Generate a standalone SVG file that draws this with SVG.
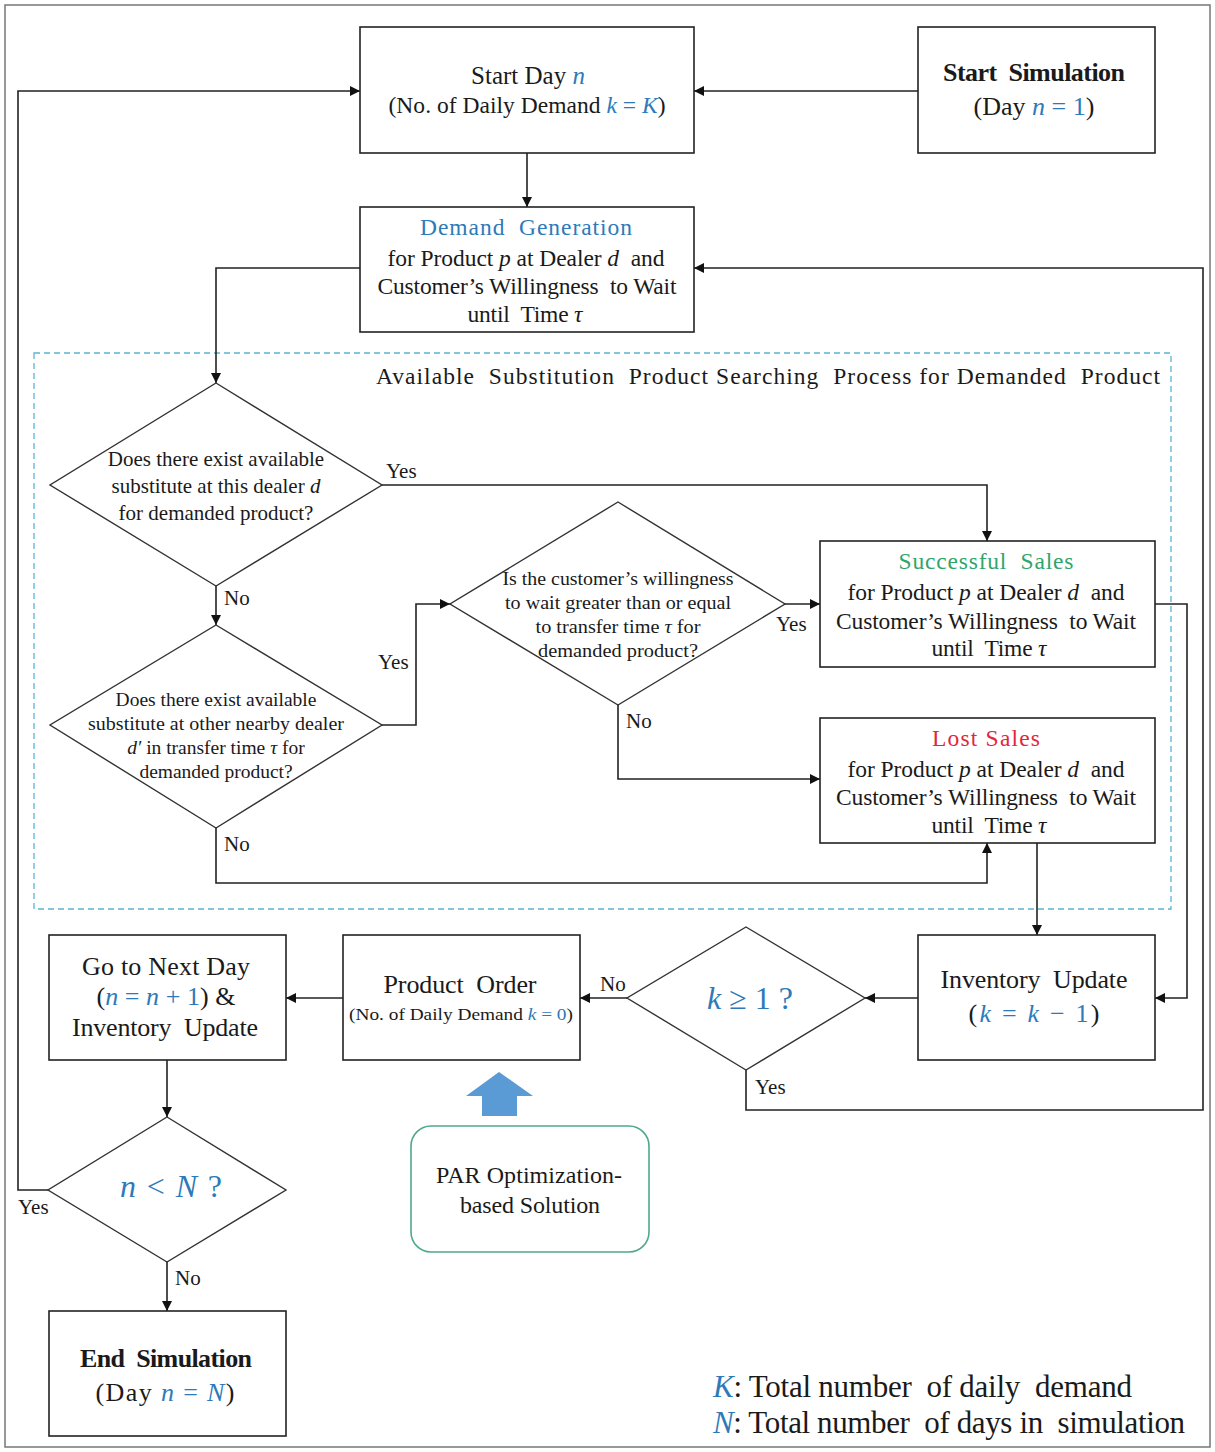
<svg xmlns="http://www.w3.org/2000/svg" width="1215" height="1452" viewBox="0 0 1215 1452">
<style>
text{font-family:"Liberation Serif","Times New Roman",serif;fill:#1a1a1a;white-space:pre;}
.t{font-size:23.5px;text-anchor:middle;}
.b{font-size:26px;text-anchor:middle;}
.d{font-size:21px;text-anchor:middle;}
.d2{font-size:19.5px;text-anchor:middle;}
.lb{font-size:21px;}
.m{fill:#2e7ab8;font-style:italic;}
.mn{fill:#2e7ab8;font-style:normal;}
.box{fill:#fff;stroke:#222;stroke-width:1.6;}
.dia{fill:#fff;stroke:#333;stroke-width:1.4;}
.ln{fill:none;stroke:#222;stroke-width:1.6;}
</style>
<defs>
<marker id="ah" viewBox="0 0 10 10" refX="10" refY="5" markerWidth="11" markerHeight="10" markerUnits="userSpaceOnUse" orient="auto">
<path d="M0,0 L10,5 L0,10 z" fill="#111"/>
</marker>
</defs>
<rect x="5" y="5" width="1205" height="1442" fill="#fff" stroke="#777" stroke-width="1.5"/>
<rect id="search-region" x="34" y="353" width="1137" height="556" fill="none" stroke="#5ab4d4" stroke-width="1.3" stroke-dasharray="6,4"/>
<text x="768" y="384" style="font-size:23.5px;text-anchor:middle" textLength="784" lengthAdjust="spacing">Available  Substitution  Product Searching  Process for Demanded  Product</text>

<g id="connectors">
<path class="ln" d="M918,91 H694" marker-end="url(#ah)"/>
<path class="ln" d="M527,153 V207" marker-end="url(#ah)"/>
<path class="ln" d="M360,268 H216 V383" marker-end="url(#ah)"/>
<path class="ln" d="M382,485 H987 V541" marker-end="url(#ah)"/>
<path class="ln" d="M216,586 V625" marker-end="url(#ah)"/>
<path class="ln" d="M382,725 H416 V604 H450" marker-end="url(#ah)"/>
<path class="ln" d="M216,828 V883 H987 V843" marker-end="url(#ah)"/>
<path class="ln" d="M785,604 H820" marker-end="url(#ah)"/>
<path class="ln" d="M618,705 V779 H820" marker-end="url(#ah)"/>
<path class="ln" d="M1155,604 H1187 V998 H1155" marker-end="url(#ah)"/>
<path class="ln" d="M1037,843 V935" marker-end="url(#ah)"/>
<path class="ln" d="M918,998 H865" marker-end="url(#ah)"/>
<path class="ln" d="M627,998 H580" marker-end="url(#ah)"/>
<path class="ln" d="M746,1070 V1110 H1203 V268 H694" marker-end="url(#ah)"/>
<path class="ln" d="M343,998 H286" marker-end="url(#ah)"/>
<path class="ln" d="M167,1060 V1117" marker-end="url(#ah)"/>
<path class="ln" d="M48,1190 H18 V91 H360" marker-end="url(#ah)"/>
<path class="ln" d="M167,1262 V1311" marker-end="url(#ah)"/>
<polygon points="499,1072 533,1096 517,1096 517,1116 482,1116 482,1096 466,1096" fill="#5b9bd5"/>
<text class="lb" x="386" y="478">Yes</text>
<text class="lb" x="224" y="605">No</text>
<text class="lb" x="378" y="669">Yes</text>
<text class="lb" x="224" y="851">No</text>
<text class="lb" x="776" y="631">Yes</text>
<text class="lb" x="626" y="728">No</text>
<text class="lb" x="600" y="991">No</text>
<text class="lb" x="755" y="1094">Yes</text>
<text class="lb" x="18" y="1214">Yes</text>
<text class="lb" x="175" y="1285">No</text>
</g>

<g id="start-day">
<rect class="box" x="360" y="27" width="334" height="126"/>
<text class="t" x="528" y="84" style="font-size:25px">Start Day <tspan class="m">n</tspan></text>
<text class="t" x="527" y="113" textLength="277" lengthAdjust="spacing">(No. of Daily Demand <tspan class="m">k</tspan><tspan class="mn"> = </tspan><tspan class="m">K</tspan>)</text>
</g>

<g id="start-simulation">
<rect class="box" x="918" y="27" width="237" height="126"/>
<text class="b" x="1034" y="81" style="font-weight:bold" textLength="182" lengthAdjust="spacing">Start  Simulation</text>
<text class="b" x="1034" y="115">(Day <tspan class="m">n</tspan><tspan class="mn"> = 1</tspan>)</text>
</g>

<g id="demand-generation">
<rect class="box" x="360" y="207" width="334" height="125"/>
<text class="t" x="526" y="235" style="fill:#2e7ab8" textLength="212" lengthAdjust="spacing">Demand  Generation</text>
<text class="t" x="526" y="266" textLength="277" lengthAdjust="spacing">for Product <tspan font-style="italic">p</tspan> at Dealer <tspan font-style="italic">d</tspan>  and</text>
<text class="t" x="527" y="294" textLength="299" lengthAdjust="spacing">Customer’s Willingness  to Wait</text>
<text class="t" x="525" y="322" textLength="115" lengthAdjust="spacing">until  Time <tspan font-style="italic">τ</tspan></text>
</g>

<g id="decision-this-dealer">
<polygon class="dia" points="216,383 382,485 216,586 50,485"/>
<text class="d" x="216" y="466">Does there exist available</text>
<text class="d" x="216" y="493">substitute at this dealer <tspan font-style="italic">d</tspan></text>
<text class="d" x="216" y="520">for demanded product?</text>
</g>

<g id="decision-nearby-dealer">
<polygon class="dia" points="216,625 382,725 216,828 50,725"/>
<text class="d2" x="216" y="706">Does there exist available</text>
<text class="d2" x="216" y="730" textLength="256" lengthAdjust="spacingAndGlyphs">substitute at other nearby dealer</text>
<text class="d2" x="216" y="754"><tspan font-style="italic">d′</tspan> in transfer time <tspan font-style="italic">τ</tspan> for</text>
<text class="d2" x="216" y="778">demanded product?</text>
</g>

<g id="decision-willingness">
<polygon class="dia" points="618,502 785,604 618,705 450,604"/>
<text class="d2" x="618" y="585" textLength="231" lengthAdjust="spacingAndGlyphs">Is the customer’s willingness</text>
<text class="d2" x="618" y="609" textLength="226" lengthAdjust="spacingAndGlyphs">to wait greater than or equal</text>
<text class="d2" x="618" y="633" textLength="165" lengthAdjust="spacingAndGlyphs">to transfer time <tspan font-style="italic">τ</tspan> for</text>
<text class="d2" x="618" y="657" textLength="160" lengthAdjust="spacingAndGlyphs">demanded product?</text>
</g>

<g id="successful-sales">
<rect class="box" x="820" y="541" width="335" height="126"/>
<text class="t" x="986" y="569" style="fill:#2fa56c" textLength="175" lengthAdjust="spacing">Successful  Sales</text>
<text class="t" x="986" y="600" textLength="277" lengthAdjust="spacing">for Product <tspan font-style="italic">p</tspan> at Dealer <tspan font-style="italic">d</tspan>  and</text>
<text class="t" x="986" y="629" textLength="300" lengthAdjust="spacing">Customer’s Willingness  to Wait</text>
<text class="t" x="989" y="656" textLength="115" lengthAdjust="spacing">until  Time <tspan font-style="italic">τ</tspan></text>
</g>

<g id="lost-sales">
<rect class="box" x="820" y="718" width="335" height="125"/>
<text class="t" x="986" y="746" style="fill:#e0283a" textLength="108" lengthAdjust="spacing">Lost Sales</text>
<text class="t" x="986" y="777" textLength="277" lengthAdjust="spacing">for Product <tspan font-style="italic">p</tspan> at Dealer <tspan font-style="italic">d</tspan>  and</text>
<text class="t" x="986" y="805" textLength="300" lengthAdjust="spacing">Customer’s Willingness  to Wait</text>
<text class="t" x="989" y="833" textLength="115" lengthAdjust="spacing">until  Time <tspan font-style="italic">τ</tspan></text>
</g>

<g id="inventory-update">
<rect class="box" x="918" y="935" width="237" height="125"/>
<text class="b" x="1034" y="988" textLength="187" lengthAdjust="spacing">Inventory  Update</text>
<text class="b" x="1034" y="1022" textLength="131" lengthAdjust="spacing">(<tspan class="m">k</tspan><tspan class="mn"> = </tspan><tspan class="m">k</tspan><tspan class="mn"> − 1</tspan>)</text>
</g>

<g id="decision-k">
<polygon class="dia" points="746,927 865,998 746,1070 627,998"/>
<text x="750" y="1009" style="font-size:32px;text-anchor:middle"><tspan class="m">k</tspan><tspan class="mn"> ≥ 1 ?</tspan></text>
</g>

<g id="product-order">
<rect class="box" x="343" y="935" width="237" height="125"/>
<text class="b" x="460" y="993" textLength="153" lengthAdjust="spacing">Product  Order</text>
<text x="461" y="1020" style="font-size:16px;text-anchor:middle" textLength="224" lengthAdjust="spacingAndGlyphs">(No. of Daily Demand <tspan class="m">k</tspan><tspan class="mn"> = 0</tspan>)</text>
</g>

<g id="next-day">
<rect class="box" x="49" y="935" width="237" height="125"/>
<text class="b" x="166" y="975" textLength="168" lengthAdjust="spacing">Go to Next Day</text>
<text class="b" x="166" y="1005" textLength="139" lengthAdjust="spacing">(<tspan class="m">n</tspan><tspan class="mn"> = </tspan><tspan class="m">n</tspan><tspan class="mn"> + 1</tspan>) &amp;</text>
<text class="b" x="165" y="1036" textLength="186" lengthAdjust="spacing">Inventory  Update</text>
</g>

<g id="decision-n">
<polygon class="dia" points="167,1117 286,1190 167,1262 48,1190"/>
<text x="171" y="1197" style="font-size:32px;text-anchor:middle" textLength="102" lengthAdjust="spacing"><tspan class="m">n</tspan><tspan class="mn"> &lt; </tspan><tspan class="m">N</tspan><tspan class="mn"> ?</tspan></text>
</g>

<g id="end-simulation">
<rect class="box" x="49" y="1311" width="237" height="125"/>
<text class="b" x="166" y="1367" style="font-weight:bold" textLength="172" lengthAdjust="spacing">End  Simulation</text>
<text class="b" x="165" y="1401" textLength="139" lengthAdjust="spacing">(Day <tspan class="m">n</tspan><tspan class="mn"> = </tspan><tspan class="m">N</tspan>)</text>
</g>

<g id="par-solution">
<rect x="411" y="1126" width="238" height="126" rx="20" ry="20" fill="#fff" stroke="#4fa88c" stroke-width="1.6"/>
<text class="t" x="529" y="1183" style="font-size:24px" textLength="186" lengthAdjust="spacing">PAR Optimization-</text>
<text class="t" x="530" y="1213" style="font-size:24px" textLength="140" lengthAdjust="spacing">based Solution</text>
</g>

<g id="legend">
<text x="713" y="1397" style="font-size:31px" textLength="419" lengthAdjust="spacing"><tspan class="m">K</tspan>: Total number  of daily  demand</text>
<text x="713" y="1433" style="font-size:31px" textLength="472" lengthAdjust="spacing"><tspan class="m">N</tspan>: Total number  of days in  simulation</text>
</g>
</svg>
